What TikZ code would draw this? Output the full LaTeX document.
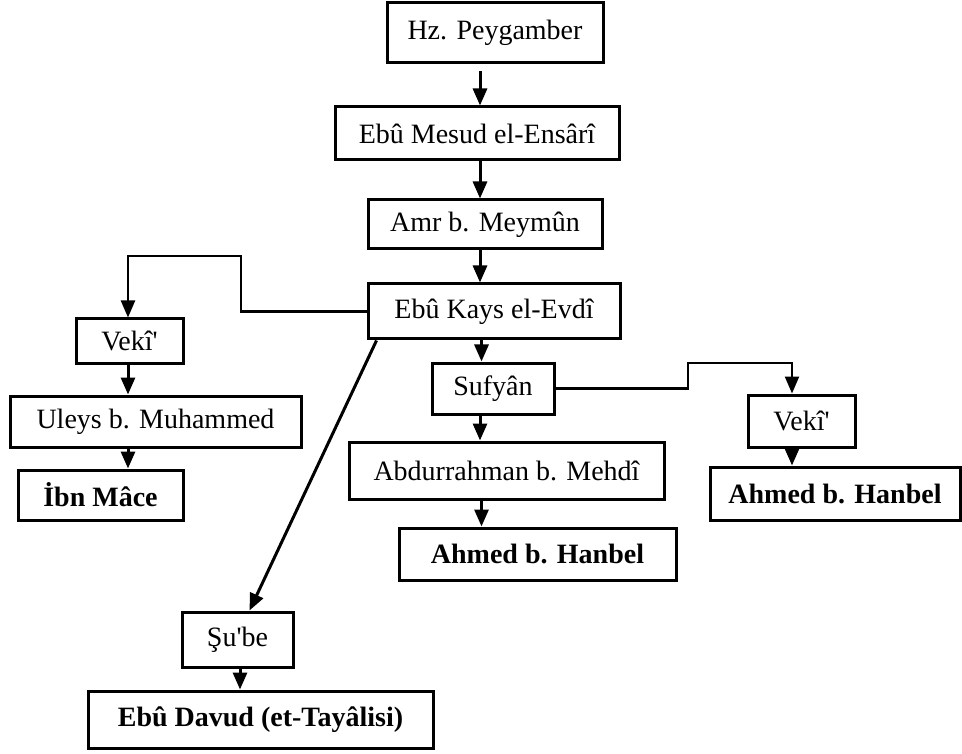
\documentclass[tikz,border=0pt]{standalone}
\usepackage{fontspec}
\setmainfont{Liberation Serif}[Ligatures=TeXOff]
\usetikzlibrary{arrows.meta}
\begin{document}
\begin{tikzpicture}[x=1pt,y=-1pt,
  box/.style={draw,line width=3pt,rectangle,inner sep=0pt,font=\fontsize{28}{32}\selectfont},
  bbox/.style={box,font=\fontsize{28}{32}\selectfont\bfseries},
  arr/.style={line width=3pt,-{Triangle[length=17pt,width=14pt]}},
  elb/.style={line width=2.3pt,-{Triangle[length=17pt,width=14pt]}}]
\useasboundingbox (0,0) rectangle (962,754);
% nodes
\node[box,minimum width=216pt,minimum height=60pt] (hz) at (495,33) {Hz. Peygamber};
\node[box,minimum width=284pt,minimum height=53pt] (mesud) at (477,133.5) {Ebû Mesud el-Ensârî};
\node[box,minimum width=234pt,minimum height=49pt] (amr) at (485,224.5) {Amr b. Meymûn};
\node[box,minimum width=252pt,minimum height=55pt] (kays) at (494,311.5) {Ebû Kays el-Evdî};
\node[box,minimum width=107pt,minimum height=44pt] (vekiA) at (129.5,341) {Vekî'};
\node[box,minimum width=291pt,minimum height=51pt] (uleys) at (155.5,421.5) {Uleys b. Muhammed};
\node[bbox,minimum width=165pt,minimum height=50pt] (ibn) at (100.5,495) {İbn Mâce};
\node[box,minimum width=122pt,minimum height=51pt] (sufyan) at (493,388.5) {Sufyân};
\node[box,minimum width=315pt,minimum height=57pt] (abd) at (506.5,470.5) {Abdurrahman b. Mehdî};
\node[bbox,minimum width=277pt,minimum height=52pt] (ahmedA) at (537.5,554) {Ahmed b. Hanbel};
\node[box,minimum width=107pt,minimum height=52pt] (vekiB) at (801.5,421) {Vekî'};
\node[bbox,minimum width=250pt,minimum height=53pt] (ahmedB) at (835,493.5) {Ahmed b. Hanbel};
\node[box,minimum width=111pt,minimum height=55pt] (sube) at (237.5,639.5) {Şu'be};
\node[bbox,minimum width=345pt,minimum height=57pt] (davud) at (260.5,719.5) {Ebû Davud (et-Tayâlisi)};
% helper columns
\coordinate (cx) at (480,0);
\coordinate (cx2) at (481.5,0);
\coordinate (lx) at (128,0);
\coordinate (rx) at (792,0);
\coordinate (sx) at (240,0);
\coordinate (kneeA) at (241,256);
\coordinate (kneeB) at (688,363);
% connectors
\draw[arr] ([yshift=-7pt]hz.south -| cx) -- (mesud.north -| cx);
\draw[arr] (mesud.south -| cx) -- (amr.north -| cx);
\draw[arr] (amr.south -| cx) -- (kays.north -| cx);
\draw[arr] (kays.south -| cx2) -- (sufyan.north -| cx2);
\draw[arr] (sufyan.south -| cx) -- (abd.north -| cx);
\draw[arr] (abd.south -| cx2) -- (ahmedA.north -| cx2);
\draw[elb] (kays.west) -| (kneeA) -| (vekiA.north -| lx);
\draw[arr] (vekiA.south -| lx) -- (uleys.north -| lx);
\draw[arr] (uleys.south -| lx) -- (ibn.north -| lx);
\draw[elb] (sufyan.east) -| (kneeB) -| (vekiB.north -| rx);
\draw[arr] (vekiB.south -| rx) -- (ahmedB.north -| rx);
\draw[arr] ([xshift=10pt]kays.south west) -- ([xshift=69pt]sube.north west);
\draw[arr] (sube.south -| sx) -- (davud.north -| sx);
\end{tikzpicture}
\end{document}
